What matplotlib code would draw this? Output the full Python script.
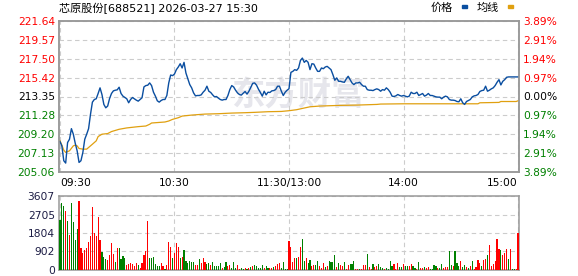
import matplotlib
matplotlib.use("Agg")
import matplotlib.pyplot as plt
from matplotlib.patches import Rectangle
import numpy as np

plt.rcParams['font.family'] = ['DejaVu Sans', 'Noto Sans CJK SC']

# axis ticks
price_ticks = [205.06, 207.13, 209.20, 211.28, 213.35, 215.42, 217.50, 219.57, 221.64]
pct_labels = ['3.89%', '2.91%', '1.94%', '0.97%', '0.00%', '0.97%', '1.94%', '2.91%', '3.89%']
vol_ticks = [0, 902, 1804, 2705, 3607]
time_ticks = [0, 60, 120, 180, 240]
time_labels = ['09:30', '10:30', '11:30/13:00', '14:00', '15:00']
prev_close = 213.35

# price per minute (0 = 09:30, 120 = 11:30/13:00, 240 = 15:00)
price = [
    208.40, 207.93, 206.30, 206.04, 208.30, 208.66, 209.82, 209.21, 208.22, 207.39,
    206.11, 206.30, 207.21, 208.66, 209.21, 209.82, 211.39, 212.73, 213.02, 213.10,
    213.68, 214.30, 213.57, 212.48, 212.11, 212.30, 213.13, 213.68, 213.97, 214.04,
    214.08, 214.37, 213.68, 213.39, 213.24, 213.10, 212.66, 213.02, 213.24, 213.10,
    212.95, 212.84, 213.02, 213.21, 214.40, 214.55, 214.59, 214.84, 214.55, 213.82,
    213.39, 212.88, 212.73, 212.91, 213.02, 213.02, 213.46, 214.84, 215.71, 215.64,
    215.82, 216.30, 216.59, 216.95, 216.48, 217.10, 215.93, 215.28, 214.66, 214.30,
    213.75, 213.42, 213.46, 213.46, 213.53, 213.82, 214.04, 214.48, 213.93, 213.79,
    213.53, 213.31, 213.35, 213.17, 213.02, 212.95, 213.02, 213.02, 213.46, 214.11,
    214.55, 214.40, 214.04, 213.75, 213.57, 213.50, 213.71, 213.90, 213.61, 213.93,
    214.37, 214.80, 214.84, 214.59, 214.15, 213.79, 213.39, 213.93, 213.53, 213.82,
    213.79, 213.97, 214.00, 214.11, 214.48, 214.48, 213.93, 213.46, 213.82, 214.04,
    214.20,
    216.00, 216.11, 216.30, 216.22, 216.48, 217.31, 217.57, 217.10, 217.31, 217.10,
    216.30, 216.95, 216.91, 216.48, 216.11, 216.11, 216.48, 216.40, 216.59, 216.66,
    216.48, 216.30, 215.75, 215.13, 215.39, 215.02, 215.02, 214.95, 214.91, 215.28,
    215.57, 215.20, 214.84, 214.66, 214.84, 214.84, 214.91, 214.66, 214.48, 214.48,
    214.11, 214.04, 214.04, 214.00, 214.11, 214.19, 214.11, 213.93, 214.11, 214.04,
    214.30, 214.11, 213.82, 213.39, 213.35, 213.42, 213.57, 213.46, 213.39, 213.46,
    213.39, 213.31, 213.39, 213.82, 213.68, 213.68, 213.82, 213.46, 213.57, 213.68,
    213.39, 213.50, 213.68, 213.46, 213.46, 213.39, 213.31, 213.28, 213.28, 213.10,
    213.28, 213.39, 213.31, 213.02, 212.95, 212.95, 212.91, 212.80, 212.77, 213.10,
    212.66, 212.48, 212.80, 212.91, 213.02, 213.31, 213.42, 213.46, 213.57, 213.90,
    214.00, 214.04, 214.48, 213.93, 214.04, 214.19, 214.30, 214.55, 214.91, 215.20,
    214.62, 215.02, 215.20, 215.46, 215.50, 215.50, 215.50, 215.50, 215.50, 215.50,
]

# average price line, read at these minutes
avg_minute = [0, 1, 2, 3, 5, 7, 8, 9, 10, 12, 14, 15, 17, 19, 20, 22, 25, 27, 31, 35,
              41, 45, 47, 48, 55, 57, 59, 62, 64, 69, 76, 83, 90, 97, 102, 109, 116, 120,
              124, 127, 131, 136, 146, 156, 166, 168, 180, 219, 220, 230, 231, 239, 240]
avg_price = [208.50, 208.01, 207.46, 207.21, 207.39, 207.93, 208.01, 207.93, 207.64, 207.57,
             207.57, 207.75, 208.11, 208.48, 208.95, 209.21, 209.28, 209.50, 209.75, 209.90,
             210.04, 210.11, 210.30, 210.44, 210.55, 210.66, 210.84, 211.02, 211.20, 211.31,
             211.42, 211.46, 211.53, 211.57, 211.61, 211.68, 211.71, 211.79,
             211.90, 212.04, 212.22, 212.30, 212.37, 212.41, 212.48, 212.52, 212.55, 212.55,
             212.66, 212.70, 212.80, 212.80, 212.88]

# volume per minute and direction (r = up, g = down)
vol = [
    2448, 3264, 3133, 2889, 2399, 1714, 3264, 2317, 1469, 2007,
    3346, 1093, 816, 979, 1061, 1355, 1681, 3052, 1795, 1681,
    2595, 1469, 898, 653, 539, 490, 734, 1306, 783, 375,
    1093, 1061, 539, 685, 604, 245, 310, 343, 277, 180,
    343, 245, 114, 359, 734, 930, 2399, 604, 604, 653,
    294, 196, 180, 343, 196, 49, 245, 1387, 1142, 604,
    816, 1338, 1142, 604, 653, 979, 441, 326, 441, 408,
    375, 245, 245, 539, 326, 604, 375, 277, 326, 245,
    408, 196, 212, 212, 343, 82, 147, 375, 180, 245,
    82, 375, 98, 245, 65, 82, 65, 80,
    65, 82, 131, 196, 245, 212, 114, 82, 245, 114, 212, 100,
    82, 114, 147, 196, 277, 326, 114, 375, 49, 49, 1420,
    1142, 375, 604, 604, 653, 1142, 1518, 441, 604, 359,
    490, 212, 245, 245, 441, 196, 114, 343, 147, 212,
    441, 375, 392, 734, 147, 343, 245, 212, 392, 49,
    245, 294, 294, 441, 49, 49, 49, 49, 245, 245,
    783, 147, 49, 294, 163, 212, 294, 147, 114, 49,
    114, 49, 441, 196, 294, 49, 343, 147, 147, 294,
    180, 212, 212, 294, 196, 114, 49, 392, 98, 98,
    147, 82, 147, 49, 49, 245, 196, 98, 114, 294,
    98, 147, 147, 930, 245, 196, 930, 343, 196, 441,
    147, 245, 147, 82, 196, 441, 49, 147, 490, 343,
    196, 490, 539, 734, 1224, 196, 294, 441, 1518, 1028,
    979, 734, 832, 1028, 539, 1028, 49, 30, 30, 1811,
]
vol_dir = list(
    "gggrgrgggg" "rrrrrrrrrr" "rrgggrrrrg" "rggggrrrrr" "rgrrrrrggg"
    "gggrrgrrrg" "rrrgrggggg" "grrgrrrggr" "gggggrggrr" "gggrrgg" "r"
    "grgrgggggrg" "g" "rrgrrrggggr"
    "rrrgrrggrg" "grrggrrrgr" "ggggrgrrgr" "rgggrrgrrr" "grrgrrgggr"
    "ggggrrrggr" "ggrrggrgrr" "grrggggrgg" "rrrggrgggr" "ggrgrgrrrr"
    "grrgrrrrrr" "grrrgrg" "grr"
)

minutes = np.arange(len(price))
RED = '#ff0000'
GREEN = '#008000'
GRID = '#cccccc'
FRAME = '#999999'

W, H = 578, 276
fig = plt.figure(figsize=(W / 100, H / 100), dpi=100)
ax = fig.add_axes([59 / W, 1 - 172 / H, 460 / W, 151 / H])
axv = fig.add_axes([59 / W, 1 - 270 / H, 460 / W, 74 / H])

# price panel
ax.text(0.52, 0.5, '东方财富', transform=ax.transAxes, fontsize=24, fontweight='bold',
        color='#e6e6ec', ha='center', va='center', zorder=0, family='Noto Sans CJK SC')
ax.plot(avg_minute, avg_price, color='#e0a010', lw=0.9, zorder=3)
ax.plot(minutes, price, color='#0a4ea0', lw=1.0, zorder=4)
ax.set_xlim(-0.5, 240.5)
ax.set_ylim(price_ticks[0], price_ticks[-1])
ax.set_yticks(price_ticks)
ax.set_yticklabels(['%.2f' % v for v in price_ticks])
ax.set_xticks(time_ticks)
ax.set_xticklabels(time_labels)
ax.grid(True, color=GRID, linestyle=(0, (4, 3)), lw=0.8)
ax.tick_params(length=0, labelsize=7.7, pad=3)
ax.tick_params(axis='x', pad=4)
xl = ax.get_xticklabels()
xl[0].set_ha('left')
xl[-1].set_ha('right')

ax2 = ax.twinx()
ax2.set_ylim(price_ticks[0], price_ticks[-1])
ax2.set_yticks(price_ticks)
ax2.set_yticklabels(pct_labels)
ax2.tick_params(length=0, labelsize=7.7, pad=3)

for lab_set in (ax.get_yticklabels(), ax2.get_yticklabels()):
    for lab, v in zip(lab_set, price_ticks):
        if v > prev_close:
            lab.set_color(RED)
        elif v < prev_close:
            lab.set_color(GREEN)
        else:
            lab.set_color('black')

# volume panel
colors = [RED if d == 'r' else GREEN for d in vol_dir]
axv.bar(minutes, vol, width=0.6, color=colors, linewidth=0, zorder=3)
axv.set_xlim(-0.5, 240.5)
axv.set_ylim(0, vol_ticks[-1])
axv.set_yticks(vol_ticks)
axv.set_yticklabels([str(v) for v in vol_ticks], color='#1c1c44')
axv.set_xticks(time_ticks)
axv.set_xticklabels([])
axv.grid(True, color=GRID, linestyle=(0, (4, 3)), lw=0.8)
axv.tick_params(length=0, labelsize=7.7, pad=3)

for a in (ax, ax2, axv):
    for s in a.spines.values():
        s.set_color(FRAME)
        s.set_linewidth(1.1)

# title and legend
fig.text(59 / W, 1 - 8 / H, '芯原股份[688521] 2026-03-27 15:30', fontsize=8,
         ha='left', va='center')
fig.text(431 / W, 1 - 8 / H, '价格', fontsize=8, ha='left', va='center')
fig.text(477 / W, 1 - 8 / H, '均线', fontsize=8, ha='left', va='center')
fig.add_artist(Rectangle((462 / W, 1 - 8 / H), 5 / W, 3 / H, color='#0a4ea0',
                         transform=fig.transFigure))
fig.add_artist(Rectangle((508 / W, 1 - 8 / H), 5 / W, 3 / H, color='#e0a010',
                         transform=fig.transFigure))

fig.savefig('out.png', dpi=100)
